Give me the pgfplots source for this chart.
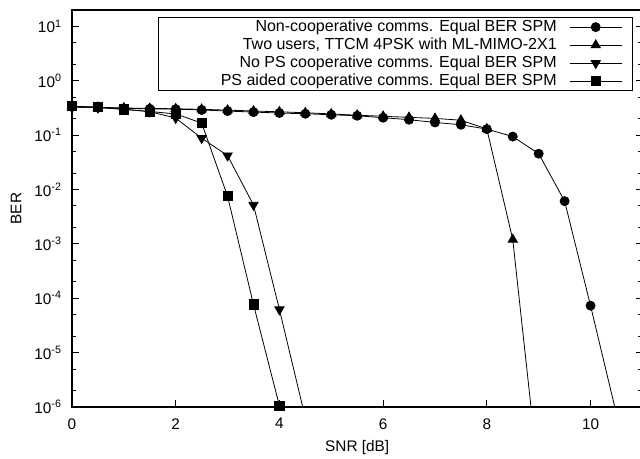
\documentclass[border=0pt]{standalone}
\usepackage{fontspec}
\setmainfont{Liberation Sans}
\usepackage{pgfplots}
\pgfplotsset{compat=1.18}
\newcommand{\legtxt}[1]{\makebox[291pt][r]{#1}}
\begin{document}
\fontsize{11.5}{13.8}\selectfont
\begin{tikzpicture}
\begin{axis}[
  scale only axis, width=427.8pt, height=297.75pt,
  xmin=0, xmax=11, ymode=log, ymin=1e-6, ymax=20,
  xtick={0,2,4,6,8,10},
  ytick={1e-6,1e-5,1e-4,1e-3,1e-2,1e-1,1,10},
  yticklabels={10\textsuperscript{-6},10\textsuperscript{-5},10\textsuperscript{-4},10\textsuperscript{-3},10\textsuperscript{-2},10\textsuperscript{-1},10\textsuperscript{0},10\textsuperscript{1}},
  minor ytick={2e-6,5e-6,2e-5,5e-5,2e-4,5e-4,2e-3,5e-3,2e-2,5e-2,2e-1,5e-1,2,5},
  xtick pos=left, ytick pos=both,
  tick align=inside, major tick length=5pt, minor tick length=3pt,
  axis line style={line width=0.9pt},
  every tick/.style={black, line width=0.6pt},
  /pgf/number format/assume math mode=true,
  xticklabel style={yshift=-4.5pt},
  yticklabel style={xshift=-3.7pt},
  legend style={at={(rel axis cs:0.984,0.9815)}, anchor=north east, draw=black, line width=0.7pt,
    font=\fontsize{12}{14}\selectfont, inner xsep=8pt, inner ysep=1pt,
    nodes={inner sep=0pt, text height=9pt, text depth=3pt},
    row sep=1.5pt, column sep=9.5pt},
  legend cell align=right, legend plot pos=right,
  legend image code/.code={\draw[mark repeat=2,mark phase=2] plot coordinates {(0pt,0pt) (19.5pt,0pt) (39pt,0pt)};},
]
\addplot[black, line width=0.6pt, mark=*, mark size=3.4pt, mark options={fill=black, solid}] coordinates {
(0,0.33) (0.5,0.32) (1,0.31) (1.5,0.305) (2,0.30) (2.5,0.29) (3,0.277) (3.5,0.265) (4,0.255) (4.5,0.247) (5,0.237) (5.5,0.227) (6,0.209) (6.5,0.192) (7,0.171) (7.5,0.155) (8,0.129) (8.5,0.094) (9,0.0455) (9.5,0.0061) (10,7.3e-5) (10.5,7.4e-7)};
\addlegendentry{\legtxt{Non-cooperative comms. Equal BER SPM}}
\addplot[black, line width=0.6pt, mark=triangle*, mark size=4pt, mark options={fill=black, solid}] coordinates {
(0,0.335) (0.5,0.325) (1,0.315) (1.5,0.31) (2,0.305) (2.5,0.298) (3,0.288) (3.5,0.278) (4,0.268) (4.5,0.258) (5,0.245) (5.5,0.232) (6,0.222) (6.5,0.212) (7,0.203) (7.5,0.188) (8,0.13) (8.5,1.2e-3) (9,5e-8)};
\addlegendentry{\legtxt{Two users, TTCM 4PSK with ML-MIMO-2X1}}
\addplot[black, line width=0.6pt, mark=triangle*, mark size=4pt, mark options={fill=black, solid, rotate=180}] coordinates {
(0,0.33) (0.5,0.32) (1,0.30) (1.5,0.27) (2,0.206) (2.5,0.088) (3,0.042) (3.5,0.0052) (4,6.2e-5) (4.5,6.3e-7)};
\addlegendentry{\legtxt{No PS cooperative comms. Equal BER SPM}}
\addplot[black, line width=0.6pt, mark=square*, mark size=3.4pt, mark options={fill=black, solid}] coordinates {
(0,0.34) (0.5,0.328) (1,0.297) (1.5,0.272) (2,0.245) (2.5,0.167) (3,0.0075) (3.5,7.7e-5) (4,1.05e-6)};
\addlegendentry{\legtxt{PS aided cooperative comms. Equal BER SPM}}
\end{axis}
\node at ([yshift=-30.75pt]current axis.south) {SNR [dB]};
\node[rotate=90] at ([xshift=-42pt]current axis.west) {BER};
\pgfresetboundingbox
\path[use as bounding box] ([xshift=-54pt,yshift=-39pt]current axis.south west) rectangle ([xshift=-1.8pt,yshift=7.5pt]current axis.north east);
\end{tikzpicture}
\end{document}
